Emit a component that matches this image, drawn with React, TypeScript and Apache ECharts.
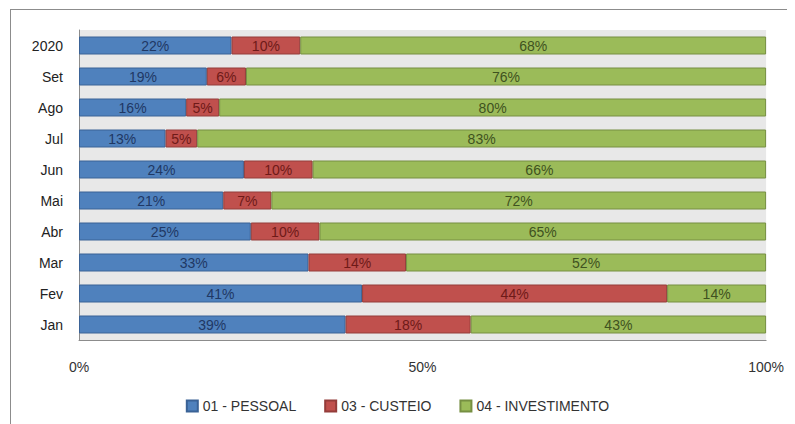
import React, { useEffect, useRef } from "react";
import * as echarts from "echarts";

const categories = ["Jan", "Fev", "Mar", "Abr", "Mai", "Jun", "Jul", "Ago", "Set", "2020"];
const pessoal = [38.8, 41.2, 33.4, 25, 21, 24, 12.6, 15.6, 18.6, 22.2];
const custeio = [18.2, 44.4, 14.2, 10, 7, 10, 4.6, 4.8, 5.7, 10];
const investimento = [43, 14.4, 52.4, 65, 72, 66, 82.8, 79.6, 75.7, 67.8];
const seriesNames = ["01 - PESSOAL", "03 - CUSTEIO", "04 - INVESTIMENTO"];
const xTicks = [0, 50, 100];

const FONT = "'Liberation Sans', 'DejaVu Sans', sans-serif";

export default function App() {
  const ref = useRef<HTMLDivElement>(null);
  useEffect(() => {
    if (!ref.current) return;
    const chart = echarts.init(ref.current, undefined, { renderer: "svg" });
    const mk = (name: string, data: number[], color: string, border: string, labelColor: string) => ({
      name,
      type: "bar",
      stack: "total",
      data,
      barWidth: 18,
      itemStyle: { color, borderColor: border, borderWidth: 1 },
      label: {
        show: true,
        position: "inside",
        color: labelColor,
        fontFamily: FONT,
        fontSize: 14,
        formatter: (p: any) => Math.round(p.value) + "%",
      },
    });
    chart.setOption({
      animation: false,
      backgroundColor: "#ffffff",
      textStyle: { fontFamily: FONT },
      grid: {
        left: 71,
        right: 13,
        top: 22,
        bottom: 84,
        show: true,
        backgroundColor: "#e8e8e8",
        borderWidth: 0,
      },
      legend: {
        bottom: 6,
        left: "center",
        itemWidth: 11,
        itemHeight: 11,
        itemGap: 28,
        icon: "rect",
        textStyle: { fontFamily: FONT, fontSize: 14, color: "#333" },
        data: seriesNames,
      },
      xAxis: {
        type: "value",
        min: 0,
        max: 100,
        interval: 50,
        axisLine: { show: true, lineStyle: { color: "#8c8c8c" } },
        axisTick: { show: false },
        splitLine: { show: false },
        axisLabel: {
          margin: 20,
          fontSize: 14,
          color: "#333",
          fontFamily: FONT,
          formatter: (v: number) => (xTicks.includes(v) ? v + "%" : ""),
        },
      },
      yAxis: {
        type: "category",
        data: categories,
        axisLine: { show: true, lineStyle: { color: "#8c8c8c" } },
        axisTick: { show: false },
        axisLabel: { margin: 16, fontSize: 14, color: "#222", fontFamily: FONT },
      },
      graphic: [
        {
          type: "line",
          shape: { x1: 2, y1: 1.5, x2: 790, y2: 1.5 },
          style: { stroke: "#8c8c8c", lineWidth: 1 },
          silent: true,
        },
        {
          type: "line",
          shape: { x1: 2.5, y1: 1, x2: 2.5, y2: 420 },
          style: { stroke: "#8c8c8c", lineWidth: 1 },
          silent: true,
        },
      ],
      series: [
        mk(seriesNames[0], pessoal, "#4f81bd", "#3a6296", "#1f3864"),
        mk(seriesNames[1], custeio, "#c0504d", "#943c3a", "#6e1a18"),
        mk(seriesNames[2], investimento, "#9bbb59", "#768f42", "#3f5220"),
      ],
    });
    return () => chart.dispose();
  }, []);
  return <div ref={ref} style={{ width: 779, height: 416 }} />;
}
